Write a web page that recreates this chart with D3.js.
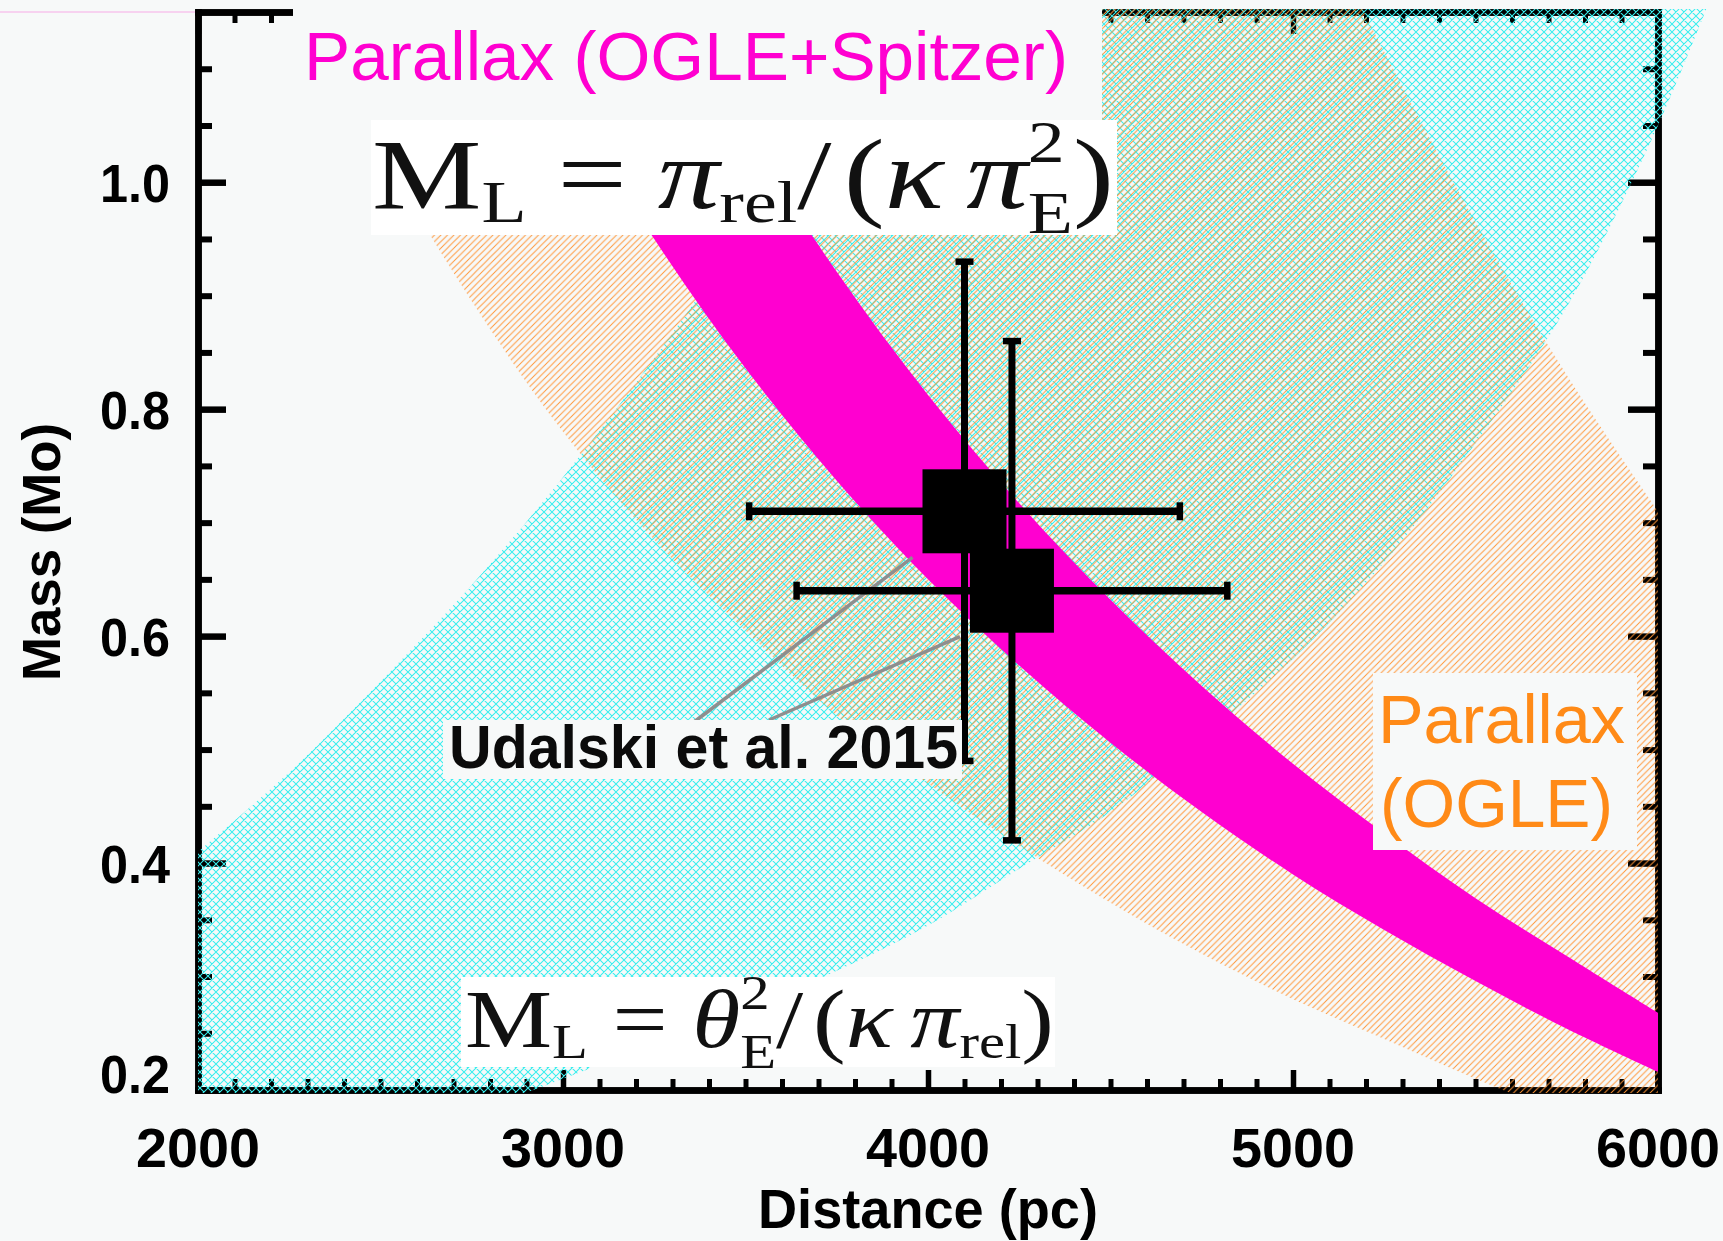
<!DOCTYPE html>
<html>
<head>
<meta charset="utf-8">
<script src="https://cdn.jsdelivr.net/npm/d3@7"></script>
<style>
  body { margin: 0; background: #f7f9f9; }
  svg { display: block; }
</style>
</head>
<body>
<script>
// ---- values (distance in pc, mass in solar masses) ----

// theta_E constraint (cyan cross hatch)
var thetaUpperDist = [2000, 2250, 2500, 2750, 3000, 3250, 3500, 3750, 4000];
var thetaUpperMass = [0.41, 0.48, 0.56, 0.645, 0.74, 0.845, 0.96, 1.09, 1.23];
var thetaLowerDist = [2000, 2250, 2500, 2750, 3000, 3250, 3500, 3750, 4000, 4250, 4500, 4750, 5000, 5250, 5500, 5750, 6000, 6250];
var thetaLowerMass = [0.115, 0.135, 0.155, 0.18, 0.21, 0.24, 0.27, 0.305, 0.345, 0.395, 0.445, 0.51, 0.58, 0.665, 0.77, 0.89, 1.05, 1.25];

// OGLE-only parallax (orange hatch)
var ogleLowerDist = [2000, 2250, 2500, 2750, 3000, 3250, 3500, 3750, 4000, 4250, 4500, 4750, 5000, 5250, 5500, 5750, 6000];
var ogleLowerMass = [1.41, 1.2, 1.03, 0.895, 0.78, 0.685, 0.605, 0.53, 0.47, 0.415, 0.365, 0.32, 0.28, 0.245, 0.21, 0.178, 0.15];
var ogleUpperDist = [5000, 5250, 5500, 5750, 6000];
var ogleUpperMass = [1.275, 1.115, 0.965, 0.83, 0.71];

// OGLE+Spitzer parallax (magenta band)
var spitzerDist = [3000, 3250, 3500, 3750, 4000, 4250, 4500, 4750, 5000, 5250, 5500, 5750, 6000];
var spitzerLowMass = [1.083, 0.95, 0.836, 0.737, 0.65, 0.574, 0.506, 0.445, 0.39, 0.341, 0.296, 0.254, 0.216];
var spitzerHighMass = [1.354, 1.188, 1.045, 0.921, 0.8125, 0.717, 0.632, 0.556, 0.4875, 0.426, 0.369, 0.318, 0.268];

// Udalski et al. 2015 solutions
var pointDist = [4100, 4230];
var pointMass = [0.71, 0.64];
var pointDistLo = [3510, 3640];
var pointDistHi = [4690, 4820];
var pointMassLo = [0.49, 0.42];
var pointMassHi = [0.93, 0.86];

// axis ticks
var xMajor = [2000, 3000, 4000, 5000, 6000];
var yMajor = [0.2, 0.4, 0.6, 0.8, 1.0];

var W = 1723, H = 1241;
var BG = "#f7f9f9";
var SANS = "'Liberation Sans', Arial, Helvetica, sans-serif";
var SERIF = "'Liberation Serif', 'Times New Roman', serif";
var MAGENTA = "#ff00d0";

var svg = d3.select("body").append("svg").attr("width", W).attr("height", H);
svg.append("rect").attr("width", W).attr("height", H).attr("fill", BG);

var x = d3.scaleLinear().domain([2000, 6000]).range([198, 1658]);
var y = d3.scaleLinear().domain([0.2, 1.15]).range([1090, 12]);

var xMinor = d3.range(2000, 6001, 100).filter(function (d) { return d % 1000 !== 0; });
var yMinor = d3.range(4, 23).filter(function (i) { return i % 4 !== 0; })
    .map(function (i) { return +(i * 0.05).toFixed(2); });

// patterns + clips
var defs = svg.append("defs");
var pc = defs.append("pattern").attr("id", "cyanHatch").attr("patternUnits", "userSpaceOnUse")
    .attr("width", 8).attr("height", 8);
pc.append("path")
    .attr("d", "M-2,2L2,-2M0,8L8,0M6,10L10,6M-2,6L2,10M0,0L8,8M6,-2L10,2")
    .attr("stroke", "#38eeee").attr("stroke-width", 1.05).attr("fill", "none");
var po = defs.append("pattern").attr("id", "orangeHatch").attr("patternUnits", "userSpaceOnUse")
    .attr("width", 6.5).attr("height", 6.5);
po.append("path")
    .attr("d", "M-1.5,1.5L1.5,-1.5M0,6.5L6.5,0M5,8L8,5")
    .attr("stroke", "#ff9536").attr("stroke-width", 0.95).attr("fill", "none");

defs.append("clipPath").attr("id", "clipCyan").append("rect")
    .attr("x", 195).attr("y", 9).attr("width", W - 195).attr("height", 1084);
defs.append("clipPath").attr("id", "clipOrange").append("rect")
    .attr("x", 195).attr("y", 9).attr("width", 1466).attr("height", 1084);
defs.append("clipPath").attr("id", "clipPlot").append("rect")
    .attr("x", 198).attr("y", 12).attr("width", 1463).attr("height", 1081);

// faint stray line at top-left
svg.append("line").attr("x1", 0).attr("x2", 198).attr("y1", 12).attr("y2", 12)
    .attr("stroke", "#f7d2f0").attr("stroke-width", 2);

// ---- axes (ticks point inward) ----
function addAxis(axis, tr, vals, size, width) {
  var g = svg.append("g").attr("transform", tr)
      .call(axis.tickValues(vals).tickSize(size).tickSizeOuter(0).tickFormat(""));
  g.select(".domain").attr("stroke", "#000").attr("stroke-width", 6.5).attr("stroke-linecap", "square");
  g.selectAll(".tick line").attr("stroke", "#000").attr("stroke-width", width);
  return g;
}
addAxis(d3.axisBottom(x), "translate(0," + y(0.2) + ")", xMinor, -11, 5);
addAxis(d3.axisBottom(x), "translate(0," + y(0.2) + ")", xMajor, -20, 5.5);
addAxis(d3.axisTop(x), "translate(0," + y(1.15) + ")", xMinor, -11, 5);
addAxis(d3.axisTop(x), "translate(0," + y(1.15) + ")", xMajor, -22, 5.5);
addAxis(d3.axisLeft(y), "translate(" + x(2000) + ",0)", yMinor, -14, 6);
addAxis(d3.axisLeft(y), "translate(" + x(2000) + ",0)", yMajor, -28, 6.5);
addAxis(d3.axisRight(y), "translate(" + x(6000) + ",0)", yMinor, -15, 6);
addAxis(d3.axisRight(y), "translate(" + x(6000) + ",0)", yMajor, -30, 6.5);

// ---- regions ----
function zip(a, b) { return a.map(function (d, i) { return [d, b[i]]; }); }
var line = d3.line().x(function (d) { return x(d[0]); }).y(function (d) { return y(d[1]); })
    .curve(d3.curveCatmullRom);
function bandPath(first, second) {
  var a = line(first);
  var b = line(second.slice().reverse());
  return a + "L" + b.slice(1) + "Z";
}

svg.append("path")
    .attr("d", bandPath(zip(thetaUpperDist, thetaUpperMass), zip(thetaLowerDist, thetaLowerMass)))
    .attr("fill", "url(#cyanHatch)").attr("clip-path", "url(#clipCyan)");

svg.append("path")
    .attr("d", bandPath(zip(ogleLowerDist, ogleLowerMass), zip(ogleUpperDist, ogleUpperMass)))
    .attr("fill", "url(#orangeHatch)").attr("clip-path", "url(#clipOrange)");

var spitzer = spitzerDist.map(function (d, i) { return { d: d, lo: spitzerLowMass[i], hi: spitzerHighMass[i] }; });
svg.append("path").datum(spitzer)
    .attr("d", d3.area().x(function (d) { return x(d.d); })
        .y0(function (d) { return y(d.lo); }).y1(function (d) { return y(d.hi); })
        .curve(d3.curveCatmullRom))
    .attr("fill", MAGENTA).attr("clip-path", "url(#clipPlot)");

// ---- leader lines to the label ----
var pts = pointDist.map(function (d, i) {
  return { d: d, m: pointMass[i], dlo: pointDistLo[i], dhi: pointDistHi[i], mlo: pointMassLo[i], mhi: pointMassHi[i] };
});
var labelAnchors = [[694, 722], [769, 720]];
svg.append("g").selectAll("line").data(pts).join("line")
    .attr("x1", function (d, i) { return labelAnchors[i][0]; })
    .attr("y1", function (d, i) { return labelAnchors[i][1]; })
    .attr("x2", function (d) { return x(d.d) - 52; })
    .attr("y2", function (d) { return y(d.m) + 46; })
    .attr("stroke", "#8e8e8e").attr("stroke-width", 3.5);

// ---- error bars and squares ----
var eb = svg.append("g").attr("stroke", "#000").attr("fill", "none");
pts.forEach(function (p) {
  eb.append("line").attr("x1", x(p.dlo)).attr("x2", x(p.dhi)).attr("y1", y(p.m)).attr("y2", y(p.m)).attr("stroke-width", 7.5);
  eb.append("line").attr("x1", x(p.d)).attr("x2", x(p.d)).attr("y1", y(p.mlo)).attr("y2", y(p.mhi)).attr("stroke-width", 7);
  [p.dlo, p.dhi].forEach(function (v) {
    eb.append("line").attr("x1", x(v)).attr("x2", x(v)).attr("y1", y(p.m) - 9).attr("y2", y(p.m) + 9).attr("stroke-width", 6.5);
  });
  [p.mlo, p.mhi].forEach(function (v) {
    eb.append("line").attr("x1", x(p.d) - 9).attr("x2", x(p.d) + 9).attr("y1", y(v)).attr("y2", y(v)).attr("stroke-width", 6.5);
  });
});
svg.append("g").selectAll("rect").data(pts).join("rect")
    .attr("x", function (d) { return x(d.d) - 42; })
    .attr("y", function (d) { return y(d.m) - 42; })
    .attr("width", 84).attr("height", 84).attr("fill", "#000");

// ---- label boxes ----
svg.append("rect").attr("x", 293).attr("y", 0).attr("width", 809).attr("height", 132).attr("fill", BG);
svg.append("text").attr("x", 304).attr("y", 80)
    .attr("font-family", SANS).attr("font-size", 68).attr("fill", MAGENTA)
    .attr("textLength", 764).attr("lengthAdjust", "spacingAndGlyphs")
    .text("Parallax (OGLE+Spitzer)");

function drawFormula(parts, x0, base, size, targetW) {
  var g = svg.append("g").attr("font-family", SERIF).attr("fill", "#111");
  var cx = 0, sub = 0.6;
  parts.forEach(function (p) {
    if (p.gap) { cx += p.gap * size; return; }
    if (p.stack) {
      var a = g.append("text").attr("x", cx).attr("y", -0.46 * size).attr("font-size", sub * size).text(p.stack[0]);
      var b = g.append("text").attr("x", cx).attr("y", 0.25 * size).attr("font-size", sub * size).text(p.stack[1]);
      cx += Math.max(a.node().getComputedTextLength(), b.node().getComputedTextLength());
      return;
    }
    var t = g.append("text").attr("x", cx).attr("y", p.sub ? 0.14 * size : 0)
        .attr("font-size", p.sub ? sub * size : size)
        .attr("font-style", p.it ? "italic" : "normal").text(p.t);
    cx += t.node().getComputedTextLength();
  });
  g.attr("transform", "translate(" + x0 + "," + base + ") scale(" + (targetW / cx) + ",1)");
}

svg.append("rect").attr("x", 371).attr("y", 120).attr("width", 746).attr("height", 115).attr("fill", "#fff");
drawFormula([
  { t: "M" }, { t: "L", sub: true }, { gap: 0.25 }, { t: "=" }, { gap: 0.25 },
  { t: "π", it: true }, { t: "rel", sub: true }, { t: "/" }, { gap: 0.1 }, { t: "(" },
  { t: "κ", it: true }, { gap: 0.18 }, { t: "π", it: true }, { stack: ["2", "E"] }, { t: ")" }
], 372, 208, 100, 742);

svg.append("rect").attr("x", 461).attr("y", 977).attr("width", 594).attr("height", 90).attr("fill", "#fff");
drawFormula([
  { t: "M" }, { t: "L", sub: true }, { gap: 0.25 }, { t: "=" }, { gap: 0.25 },
  { t: "θ", it: true }, { stack: ["2", "E"] }, { t: "/" }, { gap: 0.1 }, { t: "(" },
  { t: "κ", it: true }, { gap: 0.18 }, { t: "π", it: true }, { t: "rel", sub: true }, { t: ")" }
], 465, 1047, 82, 589);

svg.append("rect").attr("x", 443).attr("y", 720).attr("width", 519).attr("height", 59).attr("fill", BG);
svg.append("text").attr("x", 449).attr("y", 768)
    .attr("font-family", SANS).attr("font-weight", "bold").attr("font-size", 61).attr("fill", "#0b0b0b")
    .attr("textLength", 509).attr("lengthAdjust", "spacingAndGlyphs")
    .text("Udalski et al. 2015");

svg.append("rect").attr("x", 1373).attr("y", 673).attr("width", 264).attr("height", 177).attr("fill", BG);
var og = svg.append("g").attr("font-family", SANS).attr("font-size", 68).attr("fill", "#ff8a17");
og.append("text").attr("x", 1378).attr("y", 743).attr("textLength", 247).attr("lengthAdjust", "spacingAndGlyphs").text("Parallax");
og.append("text").attr("x", 1380).attr("y", 827).attr("textLength", 233).attr("lengthAdjust", "spacingAndGlyphs").text("(OGLE)");

// ---- tick labels and titles ----
var lab = svg.append("g").attr("font-family", SANS).attr("font-weight", "bold").attr("fill", "#000");
lab.selectAll(".xl").data(xMajor).join("text").attr("class", "xl")
    .attr("x", function (d) { return x(d); }).attr("y", 1167)
    .attr("text-anchor", "middle").attr("font-size", 56)
    .attr("textLength", 124).attr("lengthAdjust", "spacingAndGlyphs")
    .text(function (d) { return d; });
lab.selectAll(".yl").data(yMajor).join("text").attr("class", "yl")
    .attr("x", 170).attr("y", function (d) { return y(d) + (d === 0.2 ? 3 : 20); })
    .attr("text-anchor", "end").attr("font-size", 54)
    .attr("textLength", 70).attr("lengthAdjust", "spacingAndGlyphs")
    .text(d3.format(".1f"));
lab.append("text").attr("x", (x(2000) + x(6000)) / 2).attr("y", 1228)
    .attr("text-anchor", "middle").attr("font-size", 55)
    .attr("textLength", 340).attr("lengthAdjust", "spacingAndGlyphs")
    .text("Distance (pc)");
lab.append("text").attr("transform", "translate(60," + ((423 + 681) / 2) + ") rotate(-90)")
    .attr("text-anchor", "middle").attr("font-size", 53)
    .attr("textLength", 258).attr("lengthAdjust", "spacingAndGlyphs")
    .text("Mass (Mo)");
</script>
</body>
</html>
